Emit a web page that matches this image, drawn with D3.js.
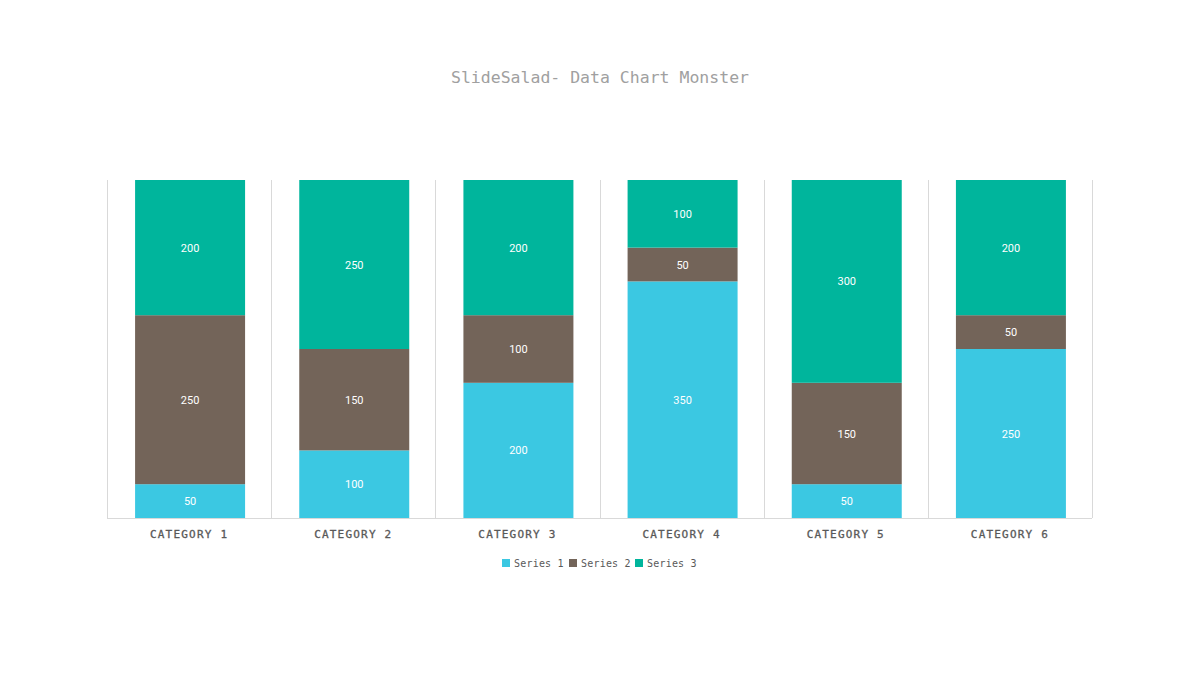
<!DOCTYPE html>
<html><head><meta charset="utf-8">
<script src="https://cdn.jsdelivr.net/npm/d3@7"></script>
<style>body{margin:0;background:#fff;}</style>
</head><body>
<svg id="c" width="1200" height="675"></svg>
<script>
const categories = ["CATEGORY 1","CATEGORY 2","CATEGORY 3","CATEGORY 4","CATEGORY 5","CATEGORY 6"];
const seriesNames = ["Series 1","Series 2","Series 3"];
const series1 = [50,100,200,350,50,250];
const series2 = [250,150,100,50,150,50];
const series3 = [200,250,200,100,300,200];
const colors = ["#3bc8e2","#736459","#00b59c"];

(function(){
const svg = d3.select("#c");
const pLeft=107, pRight=1092, pTop=180, pBottom=518;
const x = d3.scaleBand().domain(categories).range([pLeft+1,pRight+1]).paddingInner(0.33).paddingOuter(0.165);
const xb = d3.scaleBand().domain(categories).range([pLeft,pRight]);
const y = d3.scaleLinear().domain([0,500]).range([pBottom,pTop]);

const rows = categories.map((c,i)=>({cat:c,"Series 1":series1[i],"Series 2":series2[i],"Series 3":series3[i]}));
const stack = d3.stack().keys(seriesNames)(rows);

svg.append("text").attr("x",600).attr("y",83).attr("text-anchor","middle")
  .attr("font-family","'DejaVu Sans Mono', monospace").attr("font-size",16.5).attr("fill","#a0a0a0")
  .text("SlideSalad- Data Chart Monster");

const edges = categories.map(c=>xb(c)).concat([pRight]);
svg.append("g").selectAll("line").data(edges).join("line")
  .attr("x1",d=>Math.round(d)+0.5).attr("x2",d=>Math.round(d)+0.5).attr("y1",pTop).attr("y2",pBottom)
  .attr("stroke","#d9d9d9").attr("stroke-width",1);

stack.forEach((s,si)=>{
  const g = svg.append("g");
  g.selectAll("rect").data(s).join("rect")
    .attr("x",d=>x(d.data.cat)).attr("width",x.bandwidth())
    .attr("y",d=>y(d[1])).attr("height",d=>y(d[0])-y(d[1]))
    .attr("fill",colors[si]);
  g.selectAll("text").data(s).join("text")
    .attr("x",d=>x(d.data.cat)+x.bandwidth()/2).attr("y",d=>(y(d[0])+y(d[1]))/2+4)
    .attr("text-anchor","middle").attr("fill","#fff")
    .attr("font-family","Roboto, sans-serif").attr("font-size",11)
    .text(d=>d[1]-d[0]);
});

svg.append("line").attr("x1",pLeft).attr("x2",pRight).attr("y1",pBottom+0.5).attr("y2",pBottom+0.5)
  .attr("stroke","#d9d9d9");

const xa = d3.axisBottom(xb).tickSize(0).tickPadding(0);
const ag = svg.append("g").attr("transform",`translate(0,${pBottom})`).call(xa);
ag.select(".domain").remove();
ag.selectAll("text").attr("dy",0).attr("y",20)
  .attr("font-family","'DejaVu Sans Mono', monospace").attr("font-size",11).attr("font-weight","normal")
  .attr("letter-spacing","1.2px").attr("fill","#595959")
  .attr("stroke","#595959").attr("stroke-width",0.3);

const lg = svg.append("g");
const lx = [502,569,635];
seriesNames.forEach((n,i)=>{
  lg.append("rect").attr("x",lx[i]).attr("y",559).attr("width",8).attr("height",8).attr("fill",colors[i]);
  lg.append("text").attr("x",lx[i]+12).attr("y",567).attr("font-family","'DejaVu Sans Mono', monospace")
    .attr("font-size",10).attr("letter-spacing","0.2px").attr("fill","#595959").text(n);
});
})();
</script>
</body></html>
